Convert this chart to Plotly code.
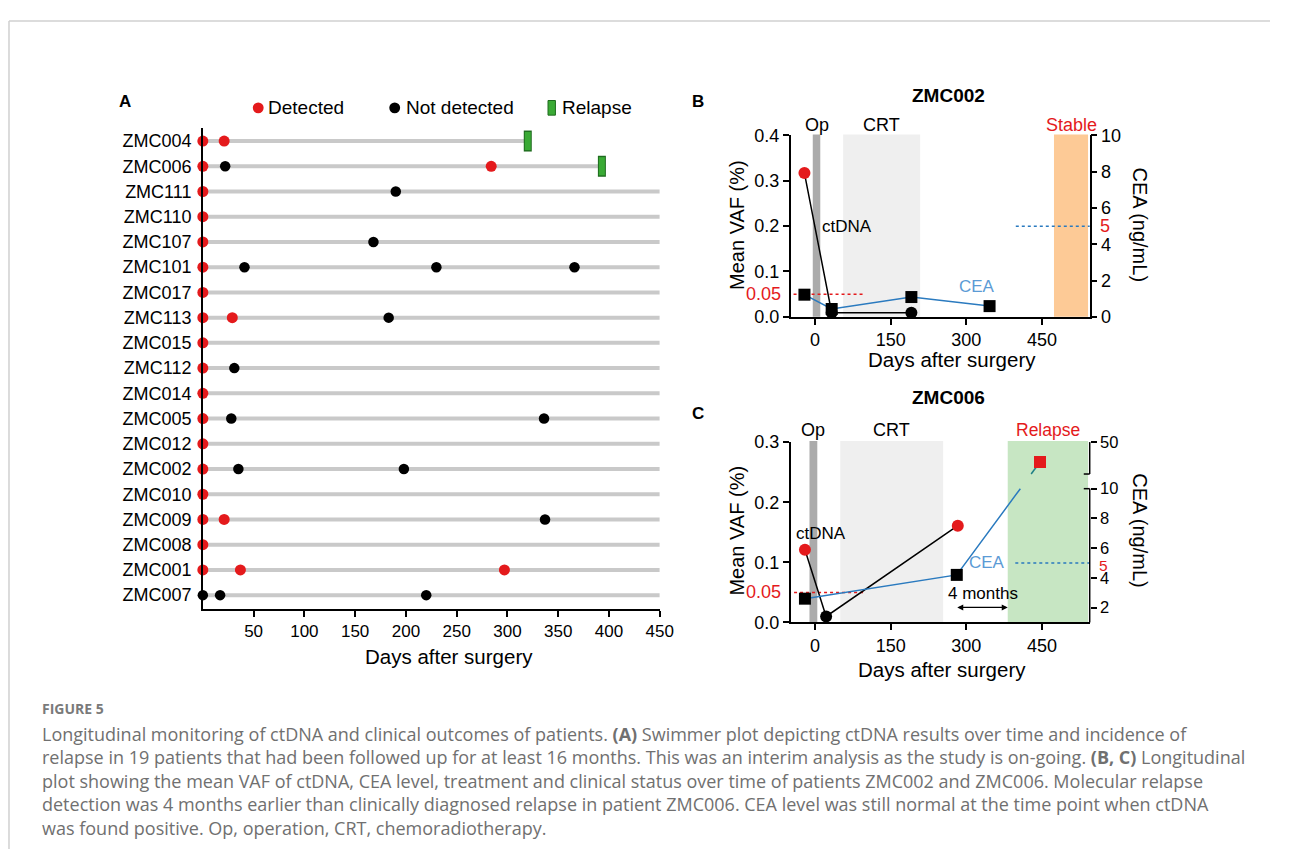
import plotly.graph_objects as go

# page is 1292x867; the browser body has an 8px margin, so the figure is 1276x851
OFF = 8
FW, FH = 1276, 851


def fx(px):
    return (px - OFF) / FW


def fy(py):
    return 1 - (py - OFF) / FH


FONT = "Liberation Sans, Arial, Helvetica, sans-serif"
CAP_FONT = "'Open Sans', Lato, sans-serif"
RED = "#e41a1c"
BLACK = "#000000"
GREY_LINE = "#c9c9c9"
GREEN = "#3aaa35"
GREEN_EDGE = "#1e6b1e"
BLUE_LINE = "#2a7abf"
BLUE_TEXT = "#5b9bd5"

# ---------------- Panel A data (swimmer plot) ----------------
patients = ["ZMC004", "ZMC006", "ZMC111", "ZMC110", "ZMC107", "ZMC101", "ZMC017",
            "ZMC113", "ZMC015", "ZMC112", "ZMC014", "ZMC005", "ZMC012", "ZMC002",
            "ZMC010", "ZMC009", "ZMC008", "ZMC001", "ZMC007"]
follow_up_days = [320, 393, 450, 450, 450, 450, 450, 450, 450, 450, 450, 450, 450,
                  450, 450, 450, 450, 450, 450]
detected_days = [[0, 21], [0, 284], [0], [0], [0], [0], [0], [0, 29], [0], [0], [0],
                 [0], [0], [0], [0], [0, 21], [0], [0, 37, 297], []]
not_detected_days = [[], [22], [190], [], [168], [41, 230, 366], [], [183], [], [31],
                     [], [28, 336], [], [35, 198], [], [337], [], [], [0, 17, 220]]
relapse_days = [320, 393, None, None, None, None, None, None, None, None, None, None,
                None, None, None, None, None, None, None]
a_xticks = [50, 100, 150, 200, 250, 300, 350, 400, 450]

# ---------------- Panel B data (ZMC002) ----------------
b_ctdna_days = [-21, 33, 191]
b_ctdna_vaf = [0.317, 0.009, 0.009]
b_ctdna_detected = [True, False, False]
b_cea_days = [-21, 33, 191, 346]
b_cea_values = [1.22, 0.43, 1.09, 0.59]
b_op = (-4.5, 10.4)
b_crt = (55.7, 208.4)
b_stable = (473.7, 541.2)

# ---------------- Panel C data (ZMC006) ----------------
c_ctdna_days = [-20, 22, 283]
c_ctdna_vaf = [0.121, 0.010, 0.161]
c_ctdna_detected = [True, False, True]
c_cea_days = [-20, 281, 446]
c_cea_values = [2.6, 4.2, 31.3]
c_op = (-11.0, 4.5)
c_crt = (50.0, 254.0)
c_relapse = (382.0, 541.2)

vaf_threshold = 0.05
cea_normal_limit = 5
vaf_line_end_day = 100
b_cea_line_start_day = 398
c_cea_line_start_day = 397
bc_xticks = [0, 150, 300, 450]
b_vaf_ticks = [0, 0.1, 0.2, 0.3, 0.4]
c_vaf_ticks = [0, 0.1, 0.2, 0.3]
b_cea_ticks = [0, 2, 4, 6, 8, 10]
c_cea_ticks = [2, 4, 6, 8, 10, 50]

# broken right axis of panel C (layout: display fraction of the axis height)
LOW_C = (1.0, 10.0)
LOW_D = (0.0, 0.7417)
UP_C = (20.0, 50.0)
UP_D = (0.823, 1.0)


def cea_disp(c):
    if c <= LOW_C[1]:
        return LOW_D[0] + (c - LOW_C[0]) / (LOW_C[1] - LOW_C[0]) * (LOW_D[1] - LOW_D[0])
    return UP_D[0] + (c - UP_C[0]) / (UP_C[1] - UP_C[0]) * (UP_D[1] - UP_D[0])


fig = go.Figure()

# ================= Panel A traces =================
lx, ly = [], []
for i, end in enumerate(follow_up_days):
    lx += [0, end, None]
    ly += [i, i, None]
fig.add_trace(go.Scatter(x=lx, y=ly, mode="lines", line=dict(color=GREY_LINE, width=4),
                         xaxis="x", yaxis="y", hoverinfo="skip", showlegend=False))

rx, ry = [], []
for i, d in enumerate(relapse_days):
    if d is not None:
        rx.append(d)
        ry.append(i)
fig.add_trace(go.Scatter(x=rx, y=ry, mode="markers", cliponaxis=False,
                         marker=dict(symbol="line-ns", size=15, color=GREEN_EDGE,
                                     line=dict(color=GREEN_EDGE, width=8)),
                         xaxis="x", yaxis="y", showlegend=False))
fig.add_trace(go.Scatter(x=rx, y=ry, mode="markers", cliponaxis=False,
                         marker=dict(symbol="line-ns", size=13, color=GREEN,
                                     line=dict(color=GREEN, width=6)),
                         xaxis="x", yaxis="y", showlegend=False))

nx, ny = [], []
for i, ds in enumerate(not_detected_days):
    for d in ds:
        nx.append(d)
        ny.append(i)
fig.add_trace(go.Scatter(x=nx, y=ny, mode="markers", cliponaxis=False,
                         marker=dict(color=BLACK, size=10.5),
                         xaxis="x", yaxis="y", showlegend=False))
dx, dy = [], []
for i, ds in enumerate(detected_days):
    for d in ds:
        dx.append(d)
        dy.append(i)
fig.add_trace(go.Scatter(x=dx, y=dy, mode="markers", cliponaxis=False,
                         marker=dict(color=RED, size=11),
                         xaxis="x", yaxis="y", showlegend=False))

# ================= Panel B traces =================
fig.add_trace(go.Scatter(x=[b_ctdna_days[0] - 200, vaf_line_end_day],
                         y=[vaf_threshold, vaf_threshold], mode="lines",
                         line=dict(color=RED, width=1.5, dash="dot"),
                         xaxis="x2", yaxis="y2", showlegend=False))
fig.add_trace(go.Scatter(x=[b_cea_line_start_day, 1000],
                         y=[cea_normal_limit, cea_normal_limit], mode="lines",
                         line=dict(color=BLUE_LINE, width=1.5, dash="dot"),
                         xaxis="x2", yaxis="y3", showlegend=False))
fig.add_trace(go.Scatter(x=b_cea_days, y=b_cea_values, mode="lines+markers", cliponaxis=False,
                         line=dict(color=BLUE_LINE, width=1.5),
                         marker=dict(symbol="square", size=12,
                                     color=[RED if v > cea_normal_limit else BLACK for v in b_cea_values]),
                         xaxis="x2", yaxis="y3", showlegend=False))
fig.add_trace(go.Scatter(x=b_ctdna_days, y=b_ctdna_vaf, mode="lines+markers", cliponaxis=False,
                         line=dict(color=BLACK, width=1.5),
                         marker=dict(symbol="circle", size=12,
                                     color=[RED if v else BLACK for v in b_ctdna_detected]),
                         xaxis="x2", yaxis="y2", showlegend=False))

# ================= Panel C traces =================
fig.add_trace(go.Scatter(x=[c_ctdna_days[0] - 200, vaf_line_end_day],
                         y=[vaf_threshold, vaf_threshold], mode="lines",
                         line=dict(color=RED, width=1.5, dash="dot"),
                         xaxis="x3", yaxis="y4", showlegend=False))
fig.add_trace(go.Scatter(x=[c_cea_line_start_day, 1000],
                         y=[cea_disp(cea_normal_limit)] * 2, mode="lines",
                         line=dict(color=BLUE_LINE, width=1.5, dash="dot"),
                         xaxis="x3", yaxis="y5", showlegend=False))

cd = [cea_disp(v) for v in c_cea_values]
# split the CEA line at the axis break
x2_, d2_ = c_cea_days[1], cd[1]
x3_, d3_ = c_cea_days[2], cd[2]
t_lo = (LOW_D[1] - d2_) / (d3_ - d2_)
t_up = (UP_D[0] - d2_) / (d3_ - d2_)
x_lo = x2_ + t_lo * (x3_ - x2_)
x_up = x2_ + t_up * (x3_ - x2_)
fig.add_trace(go.Scatter(x=c_cea_days[:2] + [x_lo], y=cd[:2] + [LOW_D[1]], mode="lines",
                         line=dict(color=BLUE_LINE, width=1.5),
                         xaxis="x3", yaxis="y5", showlegend=False))
fig.add_trace(go.Scatter(x=[x_up, x3_], y=[UP_D[0], d3_], mode="lines",
                         line=dict(color="#1f7f86", width=1.5),
                         xaxis="x3", yaxis="y5", showlegend=False))
fig.add_trace(go.Scatter(x=c_cea_days, y=cd, mode="markers", cliponaxis=False,
                         marker=dict(symbol="square", size=12,
                                     color=[RED if v > cea_normal_limit else BLACK for v in c_cea_values]),
                         xaxis="x3", yaxis="y5", showlegend=False))
fig.add_trace(go.Scatter(x=c_ctdna_days, y=c_ctdna_vaf, mode="lines+markers", cliponaxis=False,
                         line=dict(color=BLACK, width=1.5),
                         marker=dict(symbol="circle", size=12,
                                     color=[RED if v else BLACK for v in c_ctdna_detected]),
                         xaxis="x3", yaxis="y4", showlegend=False))

# ================= Axes =================
axis_common = dict(showline=True, linecolor=BLACK, linewidth=1.5, showgrid=False,
                   zeroline=False, ticks="outside", ticklen=6, tickwidth=1.5,
                   tickcolor=BLACK, fixedrange=True)

row_top = -0.503
row_bottom = 18.54
bx_range = [-48.4, 544.5]

fig.update_layout(
    xaxis=dict(axis_common, domain=[fx(205), fx(667)], range=[0, 450], anchor="y",
               tickvals=a_xticks, tickfont=dict(size=17)),
    yaxis=dict(axis_common, domain=[fy(613), fy(121)], range=[row_bottom, row_top],
               anchor="x", tickvals=list(range(len(patients))), ticktext=patients,
               ticks="", ticklabelstandoff=6, tickfont=dict(size=18)),
    xaxis2=dict(axis_common, domain=[fx(799.3), fx(1101.7)], range=bx_range, anchor="y2",
                tickvals=bc_xticks, tickfont=dict(size=18)),
    yaxis2=dict(axis_common, domain=[fy(314), fy(128.3)], range=[0, 0.4], anchor="x2",
                tickvals=b_vaf_ticks, ticktext=[f"{v:.1f}" for v in b_vaf_ticks],
                tickfont=dict(size=18)),
    yaxis3=dict(axis_common, domain=[fy(314), fy(128.3)], range=[0, 10], anchor="x2",
                overlaying="y2", side="right", tickvals=b_cea_ticks,
                tickfont=dict(size=18)),
    xaxis3=dict(axis_common, domain=[fx(799.3), fx(1101.7)], range=bx_range, anchor="y4",
                tickvals=bc_xticks, tickfont=dict(size=18)),
    yaxis4=dict(axis_common, domain=[fy(627), fy(442.3)], range=[0, 0.3], anchor="x3",
                tickvals=c_vaf_ticks, ticktext=[f"{v:.1f}" for v in c_vaf_ticks],
                tickfont=dict(size=18)),
    yaxis5=dict(axis_common, domain=[fy(627), fy(442.3)], range=[0, 1], anchor="x3",
                overlaying="y4", side="right", showline=False,
                tickvals=[cea_disp(v) for v in c_cea_ticks],
                ticktext=[str(v) for v in c_cea_ticks], tickfont=dict(size=16.5)),
)

# ================= Shapes =================
shapes = []


def band(xref, yref, x0, x1, color):
    shapes.append(dict(type="rect", xref=xref, yref=yref, x0=x0, x1=x1, y0=0, y1=1.006,
                       fillcolor=color, line=dict(width=0), layer="below"))


band("x2", "y2 domain", b_op[0], b_op[1], "#ababab")
band("x2", "y2 domain", b_crt[0], b_crt[1], "#efefef")
band("x2", "y2 domain", b_stable[0], b_stable[1], "#fdca96")
band("x3", "y4 domain", c_op[0], c_op[1], "#ababab")
band("x3", "y4 domain", c_crt[0], c_crt[1], "#efefef")
band("x3", "y4 domain", c_relapse[0], c_relapse[1], "#c7e6c3")

# broken right axis line of panel C
capw = 6 / 302.4
for (d0, d1) in [LOW_D, UP_D]:
    shapes.append(dict(type="line", xref="x3 domain", yref="y4 domain", x0=1, x1=1,
                       y0=d0, y1=d1, line=dict(color=BLACK, width=1.5)))
shapes.append(dict(type="line", xref="x3 domain", yref="y4 domain", x0=1 - capw, x1=1,
                   y0=UP_D[0], y1=UP_D[0], line=dict(color=BLACK, width=1.5)))
shapes.append(dict(type="line", xref="x3 domain", yref="y4 domain", x0=1 - capw, x1=1,
                   y0=LOW_D[1], y1=LOW_D[1], line=dict(color=BLACK, width=1.5)))

# legend symbols of panel A
shapes.append(dict(type="circle", xref="paper", yref="paper", x0=fx(255.5), x1=fx(266.5),
                   y0=fy(105.5), y1=fy(94.5), fillcolor=RED, line=dict(width=0)))
shapes.append(dict(type="circle", xref="paper", yref="paper", x0=fx(393.5), x1=fx(404.5),
                   y0=fy(105.5), y1=fy(94.5), fillcolor=BLACK, line=dict(width=0)))
shapes.append(dict(type="rect", xref="paper", yref="paper", x0=fx(554), x1=fx(561.5),
                   y0=fy(107.5), y1=fy(92.5), fillcolor=GREEN, line=dict(color=GREEN_EDGE, width=1)))

# page frame
shapes.append(dict(type="line", xref="paper", yref="paper", x0=fx(9), x1=1, y0=fy(11), y1=fy(11),
                   line=dict(color="#d0d0d0", width=1.5)))
shapes.append(dict(type="line", xref="paper", yref="paper", x0=fx(9), x1=fx(9), y0=0, y1=fy(11),
                   line=dict(color="#d0d0d0", width=1.5)))

fig.update_layout(shapes=shapes)

# ================= Annotations =================
ann = []


def txt(x, y, text, size=18, color=BLACK, xanchor="center", yanchor="middle",
        xref="paper", yref="paper", angle=0, family=FONT):
    ann.append(dict(x=x, y=y, xref=xref, yref=yref, text=text, showarrow=False,
                    xanchor=xanchor, yanchor=yanchor, textangle=angle,
                    font=dict(size=size, color=color, family=family)))


# Panel letters and titles
txt(fx(118), fy(93), "<b>A</b>", 17, xanchor="left")
txt(fx(698), fy(93), "<b>B</b>", 17, xanchor="left")
txt(fx(698), fy(413), "<b>C</b>", 17, xanchor="left")
txt(fx(959), fy(87), "<b>ZMC002</b>", 19)
txt(fx(959), fy(397), "<b>ZMC006</b>", 19)

# Panel A legend and title
txt(fx(269), fy(100), "Detected", 19, xanchor="left")
txt(fx(408), fy(100), "Not detected", 19, xanchor="left")
txt(fx(566), fy(100), "Relapse", 19, xanchor="left")
txt(fx(454), fy(662), "Days after surgery", 20.5)

# Panel B labels
txt(fx(745), fy(220), "Mean VAF (%)", 20, angle=-90)
txt(fx(1153), fy(220), "CEA (ng/mL)", 20, angle=90)
txt(fx(962), fy(358), "Days after surgery", 20.5)
txt((b_op[0] + b_op[1]) / 2, fy(118), "Op", 18, xref="x2")
txt((b_crt[0] + b_crt[1]) / 2, fy(118), "CRT", 18, xref="x2")
txt((b_stable[0] + b_stable[1]) / 2, fy(118), "Stable", 18, color=RED, xref="x2")
txt(fx(856), fy(222), "ctDNA", 17)
txt(fx(988), fy(283), "CEA", 17, color=BLUE_TEXT)
ann.append(dict(xref="x2 domain", yref="y2", x=0, y=vaf_threshold, text="0.05",
                showarrow=False, xanchor="right", xshift=-8,
                font=dict(size=18, color=RED, family=FONT)))
ann.append(dict(xref="x2 domain", yref="y3", x=1, y=cea_normal_limit, text="5",
                showarrow=False, xanchor="left", xshift=8,
                font=dict(size=18, color=RED, family=FONT)))

# Panel C labels
txt(fx(745), fy(533), "Mean VAF (%)", 20, angle=-90)
txt(fx(1153), fy(533), "CEA (ng/mL)", 20, angle=90)
txt(fx(952), fy(675), "Days after surgery", 20.5)
txt((c_op[0] + c_op[1]) / 2, fy(430), "Op", 18, xref="x3")
txt((c_crt[0] + c_crt[1]) / 2, fy(430), "CRT", 18, xref="x3")
txt((c_relapse[0] + c_relapse[1]) / 2, fy(430), "Relapse", 17.5, color=RED, xref="x3")
txt(fx(830), fy(536), "ctDNA", 17)
txt(fx(998), fy(566), "CEA", 17, color=BLUE_TEXT)
txt(fx(994), fy(597), "4 months", 17)
ann.append(dict(xref="x3", yref="y4", x=c_relapse[0], y=0.025,
                axref="x3", ayref="y4", ax=c_ctdna_days[2] - 4, ay=0.025, text="",
                showarrow=True, arrowhead=2, arrowside="end+start", arrowsize=1,
                arrowwidth=1.2, arrowcolor=BLACK))
ann.append(dict(xref="x3 domain", yref="y4", x=0, y=vaf_threshold, text="0.05",
                showarrow=False, xanchor="right", xshift=-8,
                font=dict(size=18, color=RED, family=FONT)))
ann.append(dict(xref="x3 domain", yref="y5", x=1, y=cea_disp(cea_normal_limit), text="5",
                showarrow=False, xanchor="left", xshift=8, yshift=-3, borderpad=0,
                font=dict(size=15.5, color=RED, family=FONT)))

# Caption
CAP = "#707070"
txt(fx(40), fy(715), "<b>FIGURE 5</b>", 14, color="#7a7a7a", xanchor="left", family=CAP_FONT)
cap_lines = [
    "Longitudinal monitoring of ctDNA and clinical outcomes of patients. <b>(A)</b> Swimmer plot depicting ctDNA results over time and incidence of",
    "relapse in 19 patients that had been followed up for at least 16 months. This was an interim analysis as the study is on-going. <b>(B, C)</b> Longitudinal",
    "plot showing the mean VAF of ctDNA, CEA level, treatment and clinical status over time of patients ZMC002 and ZMC006. Molecular relapse",
    "detection was 4 months earlier than clinically diagnosed relapse in patient ZMC006. CEA level was still normal at the time point when ctDNA",
    "was found positive. Op, operation, CRT, chemoradiotherapy.",
]
for k, line in enumerate(cap_lines):
    txt(fx(40), fy(741 + 24 * k), line, 18, color=CAP, xanchor="left", family=CAP_FONT)

fig.update_layout(
    annotations=ann,
    width=FW, height=FH, autosize=False,
    margin=dict(l=0, r=0, t=0, b=0),
    paper_bgcolor="white", plot_bgcolor="rgba(0,0,0,0)",
    font=dict(family=FONT, size=17, color=BLACK),
    showlegend=False,
)

fig.write_html("out.html", config={"displayModeBar": False})
